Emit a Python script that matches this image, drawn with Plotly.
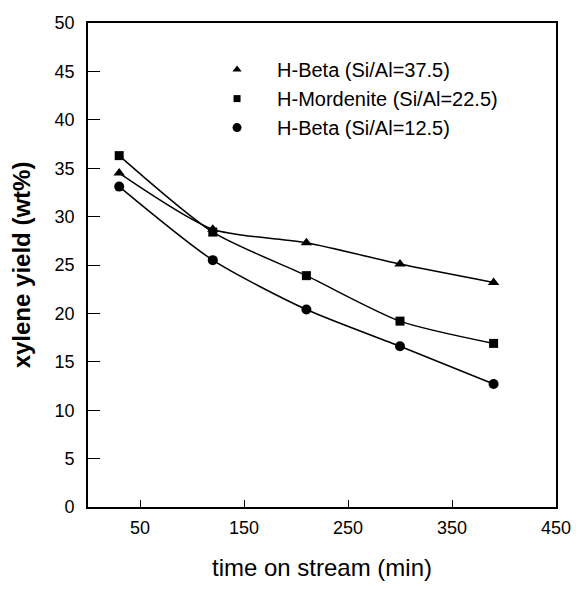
import plotly.graph_objects as go

time_min = [30, 120, 210, 300, 390]
beta_37 = [34.5, 28.7, 27.3, 25.1, 23.2]
mord_22 = [36.3, 28.4, 23.9, 19.2, 16.9]
beta_12 = [33.1, 25.5, 20.4, 16.6, 12.7]

series = [
    ("H-Beta (Si/Al=37.5)", beta_37, "triangle-up", 10, 8),
    ("H-Mordenite (Si/Al=22.5)", mord_22, "square", 9, 7),
    ("H-Beta (Si/Al=12.5)", beta_12, "circle", 10, 9),
]

fig = go.Figure()
for name, vals, sym, size, lsize in series:
    fig.add_trace(go.Scatter(x=time_min, y=vals, mode="lines",
                             line=dict(color="black", width=1.5, shape="spline", smoothing=0.7),
                             showlegend=False, hoverinfo="skip"))
for name, vals, sym, size, lsize in series:
    fig.add_trace(go.Scatter(x=time_min, y=vals, mode="markers", showlegend=False,
                             marker=dict(symbol=sym, size=size, color="black")))
for name, vals, sym, size, lsize in series:
    fig.add_trace(go.Scatter(x=[None], y=[None], mode="markers", name=name,
                             marker=dict(symbol=sym, size=lsize, color="black")))

font = "Liberation Sans, Arial, sans-serif"
fig.update_layout(
    width=565, height=573,
    margin=dict(l=80, r=17, t=15, b=74),
    paper_bgcolor="white", plot_bgcolor="white",
    font=dict(family=font, size=18, color="black"),
    legend=dict(x=0.233, y=0.944, xanchor="left", yanchor="top",
                bgcolor="rgba(0,0,0,0)", font=dict(size=20), tracegroupgap=0,
                itemwidth=70),
    xaxis=dict(range=[0, 450], tickvals=[50, 150, 250, 350, 450],
               ticktext=["50", "150", "250", "350", "450"],
               ticks="inside", ticklen=7, tickwidth=1, tickcolor="black",
               ticklabelstandoff=4, ticklabeloverflow="allow",
               showline=True, linecolor="black", linewidth=1.6, mirror=True,
               showgrid=False, zeroline=False, automargin=False,
               title=dict(text="time on stream (min)", font=dict(size=24), standoff=26)),
    yaxis=dict(range=[0, 50], tickvals=list(range(0, 51, 5)),
               ticks="inside", ticklen=12, tickwidth=1, tickcolor="black",
               ticklabelstandoff=8,
               showline=True, linecolor="black", linewidth=1.6, mirror=True,
               showgrid=False, zeroline=False, automargin=False,
               title=dict(text="<b>xylene yield (wt%)</b>", font=dict(size=24), standoff=28)),
)
fig.write_html("out.html")
